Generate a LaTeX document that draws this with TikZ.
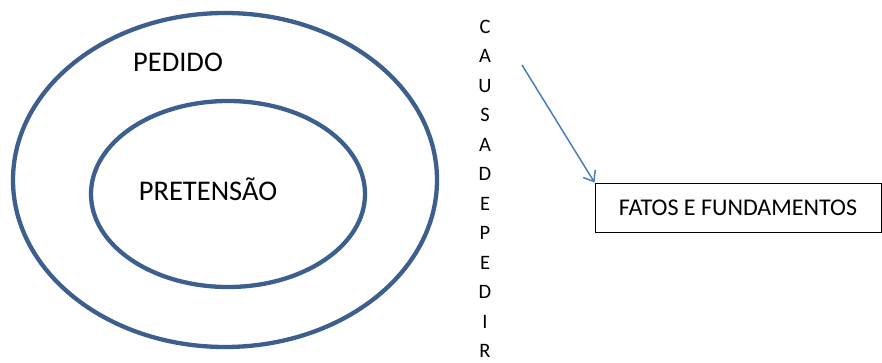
\documentclass[tikz,border=0pt]{standalone}
\usepackage{fontspec}
\setmainfont{Carlito}
\usetikzlibrary{arrows.meta,shapes.geometric}
\definecolor{ringblue}{HTML}{3C5F8E}
\definecolor{arrowblue}{HTML}{4A7EBB}
\tikzset{
  ring/.style={draw=ringblue, line width=4.3pt, ellipse, inner sep=0pt},
  biglabel/.style={font=\fontsize{28.5}{30}\selectfont, inner sep=0pt},
  letter/.style={font=\fontsize{20.5}{22}\selectfont, inner sep=0pt},
  factbox/.style={draw=black, line width=0.9pt, minimum width=286pt, minimum height=49pt, inner sep=0pt, font=\fontsize{24}{26}\selectfont},
  conn/.style={draw=arrowblue, line width=1.5pt, -{Straight Barb[length=9pt,width=14pt,line width=1.5pt]}}
}
\begin{document}
\begin{tikzpicture}[x=1pt,y=-1pt]
\useasboundingbox (0,0) rectangle (882,362);
\node[ring, minimum width=424pt, minimum height=334pt] (outer) at (225,180) {};
\node[ring, minimum width=274pt, minimum height=186pt] (inner) at (228,194) {};
\node[biglabel] (pedido) at (178,62) {PEDIDO};
\node[biglabel] (pretensao) at (208,189) {PRETENSÃO};
\foreach \ch [count=\i from 0] in {C,A,U,S,A,D,E,P,E,D,I,R} {
  \node[letter] (l\i) at (485,{26.5+29.5*\i}) {\ch};
}
\node[factbox] (fatos) at (738,207.5) {FATOS E FUNDAMENTOS};
\coordinate (astart) at (522,65);
\draw[conn] (astart) -- (fatos.north west);
\end{tikzpicture}
\end{document}
